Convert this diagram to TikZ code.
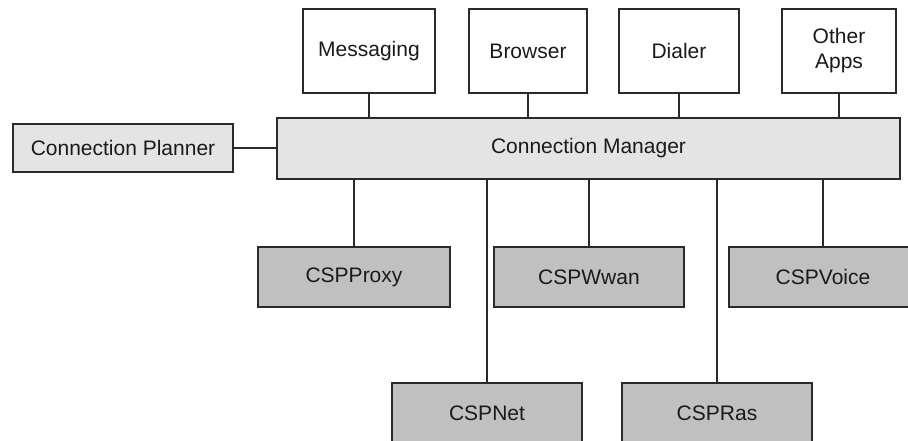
\documentclass[tikz,border=0pt]{standalone}
\usepackage{fontspec}
\setmainfont{Liberation Sans}
\definecolor{linec}{HTML}{2A2A2A}
\definecolor{mgrfill}{HTML}{E4E4E4}
\definecolor{cspfill}{HTML}{C0C0C0}
\definecolor{textc}{HTML}{1A1A1A}
\begin{document}
\begin{tikzpicture}[x=1pt,y=-1pt,
  box/.style={draw=linec, line width=1.8pt, inner sep=0pt,
    font=\fontsize{21}{25}\selectfont, text=textc, align=center},
  app/.style={box, fill=white, minimum height=84pt},
  mgr/.style={box, fill=mgrfill},
  csp/.style={box, fill=cspfill, minimum height=60pt},
  link/.style={draw=linec, line width=1.8pt}]
\useasboundingbox (0,0) rectangle (908,441);
\clip (0,0) rectangle (908,441);
\fill[white] (0,0) rectangle (908,441);
% applications
\node[app, minimum width=132pt] (msg) at (369,51) {Messaging};
\node[app, minimum width=118pt] (brw) at (528,51) {Browser};
\node[app, minimum width=120pt] (dia) at (679,51) {Dialer};
\node[app, minimum width=114pt] (oth) at (839,51) {Other\\Apps};
% manager and planner
\node[mgr, minimum width=623pt, minimum height=61pt] (cm) at (588.5,148.5) {Connection Manager};
\node[mgr, minimum width=220pt, minimum height=48pt] (plan) at (123,148) {Connection Planner};
% CSPs
\node[csp, minimum width=192pt] (proxy) at (354,277) {CSPProxy};
\node[csp, minimum width=190pt] (wwan) at (589,277) {CSPWwan};
\node[csp, minimum width=188pt] (voice) at (823,277) {CSPVoice};
\node[csp, minimum width=190pt] (net) at (487,413) {CSPNet};
\node[csp, minimum width=190pt] (ras) at (717,413) {CSPRas};
% connectors
\draw[link] (msg.south) -- (msg.south |- cm.north);
\draw[link] (brw.south) -- (brw.south |- cm.north);
\draw[link] (dia.south) -- (dia.south |- cm.north);
\draw[link] (oth.south) -- (oth.south |- cm.north);
\draw[link] (plan.east) -- (plan.east -| cm.west);
\draw[link] (proxy.north) -- (proxy.north |- cm.south);
\draw[link] (wwan.north) -- (wwan.north |- cm.south);
\draw[link] (voice.north) -- (voice.north |- cm.south);
\draw[link] (net.north) -- (net.north |- cm.south);
\draw[link] (ras.north) -- (ras.north |- cm.south);
\end{tikzpicture}
\end{document}
